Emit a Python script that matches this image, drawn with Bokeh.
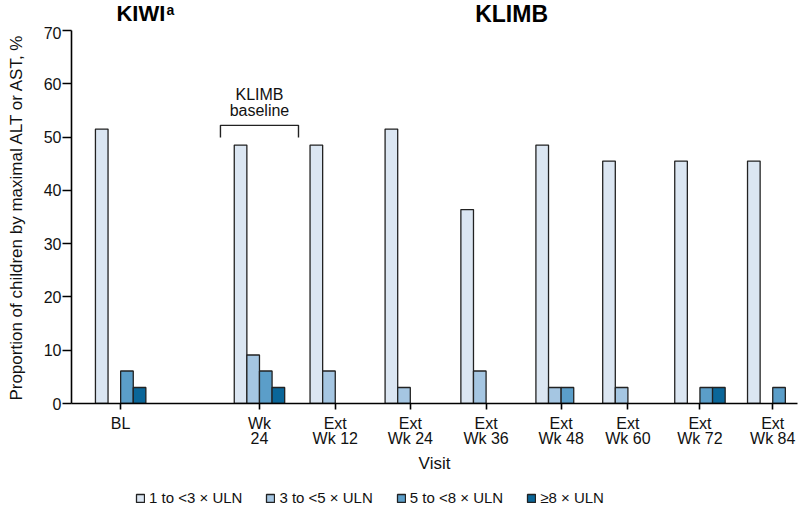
from bokeh.plotting import figure
from bokeh.models import (ColumnDataSource, Range1d, FixedTicker, Legend, LegendItem,
                          CDSView, BooleanFilter)
from bokeh.layouts import column
from bokeh.transform import dodge
from bokeh.core.properties import value
from bokeh.embed import file_html
from bokeh.resources import INLINE

# ---- data ----
visits = ["BL", "Wk 24", "Ext Wk 12", "Ext Wk 24", "Ext Wk 36", "Ext Wk 48",
          "Ext Wk 60", "Ext Wk 72", "Ext Wk 84"]
tick_labels = ["BL", "Wk\n24", "Ext\nWk 12", "Ext\nWk 24", "Ext\nWk 36", "Ext\nWk 48",
               "Ext\nWk 60", "Ext\nWk 72", "Ext\nWk 84"]
uln_1_3 = [51.5, 48.5, 48.5, 51.5, 36.4, 48.5, 45.5, 45.5, 45.5]
uln_3_5 = [0.0, 9.1, 6.1, 3.0, 6.1, 3.0, 3.0, 0.0, 0.0]
uln_5_8 = [6.1, 6.1, 0.0, 0.0, 0.0, 3.0, 0.0, 3.0, 3.0]
uln_8 = [3.0, 3.0, 0.0, 0.0, 0.0, 0.0, 0.0, 3.0, 0.0]
series_names = ["1 to <3 \u00d7 ULN", "3 to <5 \u00d7 ULN", "5 to <8 \u00d7 ULN", "\u22658 \u00d7 ULN"]

# ---- layout (visit positions along x axis, not data) ----
xpos = [0.0, 1.85, 2.86, 3.86, 4.87, 5.87, 6.76, 7.72, 8.69]
colors = ["#dbe6f2", "#a5c6e2", "#5b9ec9", "#0a6699"]
bw = 0.168
FONT = "Liberation Sans"
OUTLINE = "#222222"

series = [uln_1_3, uln_3_5, uln_5_8, uln_8]
src = ColumnDataSource(dict(x=xpos, s0=uln_1_3, s1=uln_3_5, s2=uln_5_8, s3=uln_8))
xr = Range1d(-0.655, 9.02)

# ---- title strip (study names) ----
tt = figure(frame_width=726, frame_height=26, output_backend="svg", toolbar_location=None,
            x_range=xr, y_range=Range1d(0, 26),
            min_border_left=71, min_border_right=3, min_border_top=0, min_border_bottom=0)
tt.outline_line_color = None
tt.grid.grid_line_color = None
tt.axis.visible = False
tt.text(x=[0.27, 5.21], y=[26.0, 26.0], text=["KIWI", "KLIMB"], text_font=value(FONT),
        text_font_style="bold", text_font_size=["22px", "23px"], text_align="center",
        text_baseline="top", text_color="black")
tt.text(x=[0.61], y=[25.0], text=["a"], text_font=value(FONT), text_font_style="bold",
        text_font_size="14px", text_align="left", text_baseline="top", text_color="black")

# ---- main plot ----
p = figure(frame_width=726, frame_height=373, output_backend="svg", toolbar_location=None,
           x_range=xr, y_range=Range1d(0, 70),
           min_border_left=71, min_border_right=3, min_border_top=4, min_border_bottom=0)
p.outline_line_color = None
p.grid.grid_line_color = None

cols = ["s0", "s1", "s2", "s3"]
offsets = [-1.5 * bw, -0.5 * bw, 0.5 * bw, 1.5 * bw]
for c, off, col, vals in zip(cols, offsets, colors, series):
    view = CDSView(filter=BooleanFilter([v > 0 for v in vals]))
    p.vbar(x=dodge("x", off, range=p.x_range), top=c, width=bw, source=src, view=view,
           fill_color=col, line_color=OUTLINE, line_width=1.3)

# y axis
ya = p.yaxis[0]
ya.ticker = FixedTicker(ticks=[0, 10, 20, 30, 40, 50, 60, 70])
ya.axis_line_width = 1.6
ya.axis_line_color = "black"
ya.major_tick_line_width = 1.6
ya.major_tick_out = 9
ya.major_tick_in = 0
ya.minor_tick_line_color = None
ya.major_label_text_font = FONT
ya.major_label_text_font_size = "16px"
ya.major_label_text_color = "#111111"
ya.major_label_standoff = 1
ya.axis_label = "Proportion of children by maximal ALT or AST, %"
ya.axis_label_text_font = FONT
ya.axis_label_text_font_size = "17px"
ya.axis_label_text_font_style = "normal"
ya.axis_label_text_color = "#111111"
ya.axis_label_standoff = 15

# x axis
xa = p.xaxis[0]
xa.ticker = FixedTicker(ticks=xpos)
xa.major_label_overrides = {x: lab for x, lab in zip(xpos, tick_labels)}
xa.axis_line_width = 1.6
xa.major_tick_line_width = 1.6
xa.major_tick_out = 6
xa.major_tick_in = 0
xa.minor_tick_line_color = None
xa.major_label_text_font = FONT
xa.major_label_text_font_size = "16px"
xa.major_label_text_color = "#111111"
xa.major_label_text_line_height = 0.9
xa.major_label_standoff = 5
xa.axis_label = "Visit"
xa.axis_label_text_font = FONT
xa.axis_label_text_font_size = "17px"
xa.axis_label_text_font_style = "normal"
xa.axis_label_text_color = "#111111"
xa.axis_label_standoff = 4

# KLIMB baseline bracket
bx = xpos[1]
p.multi_line(xs=[[bx - 0.52, bx - 0.52, bx + 0.52, bx + 0.52]], ys=[[49.9, 52.2, 52.2, 49.9]],
             line_color=OUTLINE, line_width=1.4)
p.text(x=[bx, bx], y=[58.0, 55.0], text=["KLIMB", "baseline"], text_font=value(FONT),
       text_font_size="16px", text_align="center", text_baseline="middle", text_color="#111111")

# ---- legend strip ----
lg = figure(frame_width=726, frame_height=34, output_backend="svg", toolbar_location=None,
            x_range=Range1d(0, 1), y_range=Range1d(0, 1),
            min_border_left=71, min_border_right=3, min_border_top=0, min_border_bottom=0)
lg.outline_line_color = None
lg.grid.grid_line_color = None
lg.axis.visible = False
lsrc = ColumnDataSource(dict(x=[float("nan")], t=[float("nan")]))
items = []
for name, col in zip(series_names, colors):
    r = lg.vbar(x="x", top="t", bottom="t", width=0.01, source=lsrc, fill_color=col,
                line_color=OUTLINE, line_width=1.3)
    items.append(LegendItem(label=name, renderers=[r]))
legend = Legend(items=items, orientation="horizontal", location=(64, 3),
                glyph_width=10, glyph_height=10, label_standoff=4, spacing=23,
                label_text_font=FONT, label_text_font_size="15px", label_text_color="#111111",
                border_line_color=None, background_fill_alpha=0, padding=2, margin=0,
                label_height=14)
lg.add_layout(legend, "center")

layout = column(tt, p, lg, spacing=0)
open("out.html", "w").write(file_html(layout, INLINE))
